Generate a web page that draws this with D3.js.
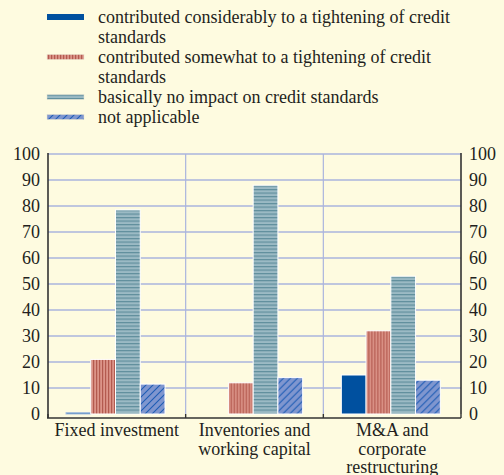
<!DOCTYPE html>
<html>
<head>
<script src="https://d3js.org/d3.v7.min.js"></script>
<style>
  body { margin: 0; background: #fefbe0; }
  svg { display: block; font-family: 'Liberation Serif', 'Times New Roman', serif; }
</style>
</head>
<body>
<svg id="chart" width="504" height="475"></svg>
<script>
// data
var categories = [["Fixed investment"], ["Inventories and", "working capital"], ["M&A and", "corporate", "restructuring"]];
var seriesNames = [
  ["contributed considerably to a tightening of credit", "standards"],
  ["contributed somewhat to a tightening of credit", "standards"],
  ["basically no impact on credit standards"],
  ["not applicable"]
];
var considerably = [0.5, 0, 15];
var somewhat = [21, 12, 32];
var noImpact = [78.5, 88, 53];
var notApplicable = [11.5, 14, 13];
var yTicks = [0, 10, 20, 30, 40, 50, 60, 70, 80, 90, 100];

var allSeries = [considerably, somewhat, noImpact, notApplicable];

var svg = d3.select("#chart");
var pLeft = 48, pRight = 461, pTop = 154, pBottom = 414;
var fs = 18;

var x0 = d3.scaleBand().domain(d3.range(categories.length)).range([pLeft, pRight]);
var x1 = d3.scaleBand().domain(d3.range(allSeries.length)).range([18, 117]);
var y = d3.scaleLinear().domain([0, 100]).range([pBottom, pTop]);

// patterns
var defs = svg.append("defs");
var p1 = defs.append("pattern").attr("id", "pRed").attr("patternUnits", "userSpaceOnUse")
  .attr("width", 3).attr("height", 3);
p1.append("rect").attr("width", 3).attr("height", 3).attr("fill", "#dc9488");
p1.append("rect").attr("width", 1.2).attr("height", 3).attr("fill", "#b35a4f");

var p2 = defs.append("pattern").attr("id", "pTeal").attr("patternUnits", "userSpaceOnUse")
  .attr("width", 3).attr("height", 3.5);
p2.append("rect").attr("width", 3).attr("height", 3.5).attr("fill", "#9bbac4");
p2.append("rect").attr("width", 3).attr("height", 1.2).attr("fill", "#5f8e9c");

var p3 = defs.append("pattern").attr("id", "pHatch").attr("patternUnits", "userSpaceOnUse")
  .attr("width", 7).attr("height", 7);
p3.append("rect").attr("width", 7).attr("height", 7).attr("fill", "#7f96cf");
p3.append("path").attr("d", "M-1,8 L8,-1 M-1,1 L1,-1 M6,8 L8,6")
  .attr("stroke", "#1e5cb5").attr("stroke-width", 1.1);

var fills = ["#00509f", "url(#pRed)", "url(#pTeal)", "url(#pHatch)"];

// legend
var legend = svg.append("g");
var ly = 17;
seriesNames.forEach(function(lines, i) {
  var h = i == 0 ? 6 : 5;
  legend.append("rect").attr("x", 47).attr("y", ly - h / 2).attr("width", 37).attr("height", h)
    .attr("fill", fills[i]).attr("stroke", i == 0 ? "none" : "#e8e4d0").attr("stroke-width", 0.5);
  lines.forEach(function(t, j) {
    legend.append("text").attr("x", 98).attr("y", ly + j * 20).attr("dy", "0.33em")
      .attr("font-size", fs).attr("fill", "#231f20").text(t);
  });
  ly += lines.length * 20;
});

// grid
svg.append("g").selectAll("line").data(yTicks.slice(1)).join("line")
  .attr("x1", pLeft).attr("x2", pRight)
  .attr("y1", function(d) { return y(d); }).attr("y2", function(d) { return y(d); })
  .attr("stroke", "#aab4de").attr("stroke-width", 1.5);
svg.append("g").selectAll("line").data([1, 2]).join("line")
  .attr("x1", function(d) { return x0(d); }).attr("x2", function(d) { return x0(d); })
  .attr("y1", pTop).attr("y2", pBottom)
  .attr("stroke", "#aab4de").attr("stroke-width", 1.2);

// bars
var groups = svg.append("g").selectAll("g").data(categories).join("g")
  .attr("transform", function(d, i) { return "translate(" + x0(i) + ",0)"; });
groups.selectAll("rect")
  .data(function(d, i) { return allSeries.map(function(s, k) { return { k: k, v: s[i] }; }); })
  .join("rect")
  .filter(function(d) { return d.v > 0; })
  .attr("x", function(d) { return x1(d.k); })
  .attr("y", function(d) { return y(d.v); })
  .attr("width", x1.bandwidth())
  .attr("height", function(d) { return pBottom - y(d.v); })
  .attr("fill", function(d) { return fills[d.k]; })
  .attr("stroke", function(d) { return d.v < 1 ? "#a9c0e0" : "#ffffff"; })
  .attr("stroke-width", 1);

// axes
var yLeft = d3.axisLeft(y).tickValues(yTicks).tickSize(0).tickPadding(8);
var yRight = d3.axisRight(y).tickValues(yTicks).tickSize(0).tickPadding(8);
var gl = svg.append("g").attr("transform", "translate(" + pLeft + ",0)").call(yLeft);
var gr = svg.append("g").attr("transform", "translate(" + pRight + ",0)").call(yRight);
[gl, gr].forEach(function(g) {
  g.select(".domain").remove();
  g.selectAll("text").attr("font-family", "'Liberation Serif', serif").attr("font-size", fs).attr("fill", "#231f20");
});
gl.append("line").attr("x1", 0).attr("x2", 0).attr("y1", pTop - 1).attr("y2", pBottom + 4)
  .attr("stroke", "#333").attr("stroke-width", 1.6);
gr.append("line").attr("x1", 0).attr("x2", 0).attr("y1", pTop - 1).attr("y2", pBottom)
  .attr("stroke", "#333").attr("stroke-width", 1.6);

// bottom axis
var xAxis = svg.append("g");
xAxis.append("line").attr("x1", pLeft - 1).attr("x2", pRight).attr("y1", pBottom + 4).attr("y2", pBottom + 4)
  .attr("stroke", "#333").attr("stroke-width", 1.6);
xAxis.selectAll(".tk").data([0, 1, 2, 3]).join("line").attr("class", "tk")
  .attr("x1", function(d) { return d < 3 ? x0(d) : pRight; })
  .attr("x2", function(d) { return d < 3 ? x0(d) : pRight; })
  .attr("y1", pBottom).attr("y2", pBottom + 4)
  .attr("stroke", "#333").attr("stroke-width", 1.4);

var labels = xAxis.selectAll(".lab").data(categories).join("text").attr("class", "lab")
  .attr("x", function(d, i) { return x0(i) + x0.bandwidth() / 2; })
  .attr("text-anchor", "middle").attr("font-size", fs).attr("fill", "#231f20");
labels.selectAll("tspan").data(function(d) { return d; }).join("tspan")
  .attr("x", function() { return this.parentNode.getAttribute("x"); })
  .attr("y", function(d, j) { return 436 + j * 18.5; })
  .text(function(d) { return d; });
</script>
</body>
</html>
